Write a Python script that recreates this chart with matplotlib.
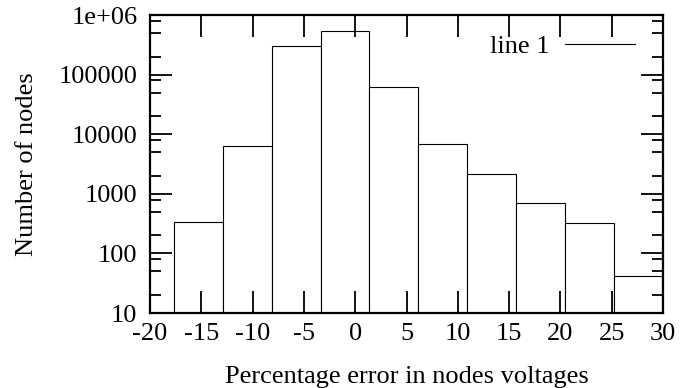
import matplotlib
matplotlib.use("Agg")
from matplotlib import pyplot as plt
from matplotlib.ticker import FixedLocator, FixedFormatter, NullFormatter
from matplotlib.lines import Line2D

# histogram bins (centres) and counts
bin_centers = [-15.28, -10.52, -5.76, -1.0, 3.76, 8.52, 13.28, 18.04, 22.80, 27.56]
bin_width = 4.76
counts = [340, 6400, 298000, 533000, 62000, 6900, 2150, 710, 325, 41]

x_ticks = [-20, -15, -10, -5, 0, 5, 10, 15, 20, 25, 30]
y_ticks = [10, 100, 1000, 10000, 100000, 1000000]
y_labels = ['10', '100', '1000', '10000', '100000', '1e+06']

plt.rcParams['font.family'] = ['Liberation Serif', 'DejaVu Serif']
plt.rcParams['font.size'] = 19

fig = plt.figure(figsize=(6.89, 3.88), dpi=100)
ax = fig.add_axes([150/689, 1 - 313/388, 513/689, 298/388])

ax.bar(bin_centers, counts, width=bin_width, bottom=1, color='white',
       edgecolor='black', linewidth=0.8)

ax.set_yscale('log')
ax.set_xlim(-20, 30)
ax.set_ylim(10, 1e6)

#ticks
ax.xaxis.set_major_locator(FixedLocator(x_ticks))
ax.set_xticklabels([str(t) for t in x_ticks])
ax.yaxis.set_major_locator(FixedLocator(y_ticks))
ax.yaxis.set_major_formatter(FixedFormatter(y_labels))
minor = [m * 10**d for d in range(1, 6) for m in (2, 5, 8)]
ax.yaxis.set_minor_locator(FixedLocator(minor))
ax.yaxis.set_minor_formatter(NullFormatter())
ax.xaxis.set_minor_locator(FixedLocator([]))
ax.tick_params(which='major', direction='in', length=16, width=1.3,
               top=True, right=True)
ax.tick_params(axis='x', which='major', pad=7)
ax.tick_params(axis='y', which='major', pad=9)
ax.tick_params(which='minor', direction='in', length=8, width=1.3,
               left=True, right=True)
for s in ax.spines.values():
    s.set_linewidth(1.6)

ax.set_xlabel('Percentage error in nodes voltages', labelpad=15)
ax.set_ylabel('Number of nodes', labelpad=15)

#legend
h = Line2D([], [], color='black', linewidth=0.8)
ax.legend([h], ['line 1'], loc='upper right', frameon=False, markerfirst=False,
          handlelength=2.65, handletextpad=0.57, borderaxespad=0.2,
          bbox_to_anchor=(0.976, 0.987))

plt.savefig('out.png', dpi=100)
